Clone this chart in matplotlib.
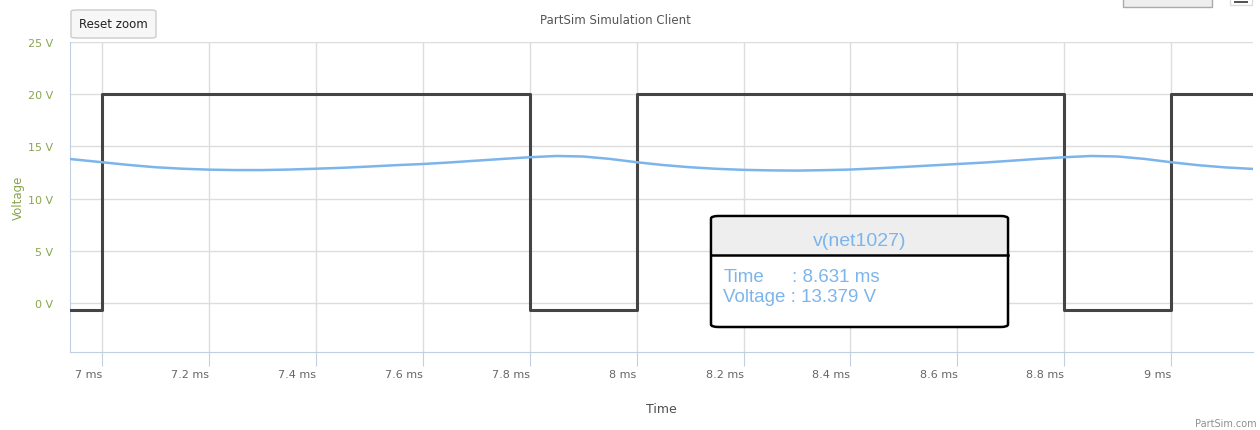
import matplotlib.pyplot as plt
from matplotlib.patches import FancyBboxPatch, Rectangle

# square wave source (ms, V)
sq_t = [6.94, 7.0, 7.0, 7.8, 7.8, 8.0, 8.0, 8.8, 8.8, 9.0, 9.0, 9.153]
sq_v = [-0.7, -0.7, 20, 20, -0.7, -0.7, 20, 20, -0.7, -0.7, 20, 20]

# filtered output v(net1027)
out_t = [6.94, 7.00, 7.05, 7.10, 7.15, 7.20, 7.25, 7.30, 7.35, 7.40, 7.45,
         7.50, 7.55, 7.60, 7.65, 7.70, 7.75, 7.80, 7.85, 7.90, 7.95, 8.00,
         8.05, 8.10, 8.15, 8.20, 8.25, 8.30, 8.35, 8.40, 8.45, 8.50, 8.55,
         8.60, 8.65, 8.70, 8.75, 8.80, 8.85, 8.90, 8.95, 9.00, 9.05, 9.10, 9.153]
out_v = [13.79, 13.48, 13.22, 13.00, 12.86, 12.77, 12.73, 12.73, 12.78, 12.86, 12.95,
         13.07, 13.20, 13.31, 13.46, 13.63, 13.80, 13.96, 14.08, 14.03, 13.80, 13.48,
         13.21, 13.00, 12.85, 12.75, 12.70, 12.68, 12.72, 12.78, 12.90, 13.03, 13.17,
         13.31, 13.45, 13.62, 13.80, 13.96, 14.08, 14.03, 13.80, 13.48, 13.20, 12.99, 12.84]

x_ticks = [7.0, 7.2, 7.4, 7.6, 7.8, 8.0, 8.2, 8.4, 8.6, 8.8, 9.0]
x_labels = ['7 ms', '7.2 ms', '7.4 ms', '7.6 ms', '7.8 ms', '8 ms',
            '8.2 ms', '8.4 ms', '8.6 ms', '8.8 ms', '9 ms']
y_ticks = [0, 5, 10, 15, 20, 25]
y_labels = ['0 V', '5 V', '10 V', '15 V', '20 V', '25 V']

W, H = 1260, 431
fig = plt.figure(figsize=(W / 100, H / 100), dpi=100)
ax = fig.add_axes([70 / W, 1 - 353 / H, (1253 - 70) / W, (353 - 43) / H])

ax.plot(sq_t, sq_v, color='#444444', lw=2.2, zorder=3)
ax.plot(out_t, out_v, color='#7cb5ec', lw=1.8, zorder=3)

ax.set_xlim(6.94, 9.153)
ax.set_ylim(-4.7, 25)
ax.set_xticks(x_ticks)
ax.set_xticklabels(x_labels, ha='right')
ax.set_yticks(y_ticks)
ax.set_yticklabels(y_labels)
ax.grid(True, color='#dddddd', lw=1)
ax.set_axisbelow(True)

for s in ['top', 'right']:
    ax.spines[s].set_visible(False)
ax.spines['left'].set_color('#c0d0e0')
ax.spines['bottom'].set_color('#c0d0e0')
ax.tick_params(axis='x', length=10, color='#c0d0e0', labelsize=8, labelcolor='#666666', pad=2)
ax.tick_params(axis='y', length=0, labelsize=8, labelcolor='#89a54e', pad=12)

fig.text(18 / W, 1 - 198 / H, 'Voltage', rotation=90, ha='center', va='center',
         color='#89a54e', fontsize=8.5)
fig.text(661 / W, 1 - 410 / H, 'Time', ha='center', va='center', color='#4d4d4d', fontsize=9)

fig.text(615 / W, 1 - 20 / H, 'PartSim Simulation Client', ha='center', va='center',
         fontsize=8.5, color='#555555')

# reset zoom button
fig.patches.append(FancyBboxPatch((71 / W, 1 - 39 / H), 85 / W, 28 / H,
                                  boxstyle='round,pad=0,rounding_size=0.004',
                                  transform=fig.transFigure, fc='#f7f7f7',
                                  ec='#cccccc', lw=1))
fig.text(113 / W, 1 - 25 / H, 'Reset zoom', ha='center', va='center', fontsize=8.5, color='#222222')

# partial buttons at the top right
fig.patches.append(Rectangle((1123 / W, 1 - 8 / H), 89 / W, 10 / H, transform=fig.transFigure,
                             fc='#eeeeee', ec='#aaaaaa', lw=1))
fig.patches.append(Rectangle((1230 / W, 1 - 6 / H), 22 / W, 8 / H, transform=fig.transFigure,
                             fc='white', ec='#dddddd', lw=1))
fig.patches.append(Rectangle((1234 / W, 1 - 4 / H), 14 / W, 2 / H, transform=fig.transFigure,
                             fc='#555555', ec='none'))

fig.text(1257 / W, 1 - 424 / H, 'PartSim.com', ha='right', va='center', fontsize=7, color='#909090')

# tooltip
tx0, ty0, tx1, ty1 = 711, 217, 1008, 328
fig.patches.append(FancyBboxPatch((tx0 / W, 1 - ty1 / H), (tx1 - tx0) / W, (ty1 - ty0) / H,
                                  boxstyle='round,pad=0,rounding_size=0.006',
                                  transform=fig.transFigure, fc='white', ec='black',
                                  lw=1.8, zorder=5))
fig.patches.append(Rectangle((713 / W, 1 - 256 / H), 293 / W, 37 / H, transform=fig.transFigure,
                             fc='#eeeeee', ec='none', zorder=5))
fig.add_artist(plt.Line2D([tx0 / W, tx1 / W], [1 - 256 / H, 1 - 256 / H], color='black',
                          lw=1.8, transform=fig.transFigure, zorder=6))
fig.text(860 / W, 1 - 241 / H, 'v(net1027)', ha='center', va='center', fontsize=14,
         color='#7cb5ec', family='Liberation Sans', zorder=7)
fig.text(724 / W, 1 - 277 / H, 'Time', ha='left', va='center', fontsize=13.5,
         color='#7cb5ec', family='Liberation Sans', zorder=7)
fig.text(792 / W, 1 - 277 / H, ': 8.631 ms', ha='left', va='center', fontsize=13.5,
         color='#7cb5ec', family='Liberation Sans', zorder=7)
fig.text(723 / W, 1 - 297 / H, 'Voltage : 13.379 V', ha='left', va='center', fontsize=13.5,
         color='#7cb5ec', family='Liberation Sans', zorder=7)

fig.savefig('out.png', dpi=100)
